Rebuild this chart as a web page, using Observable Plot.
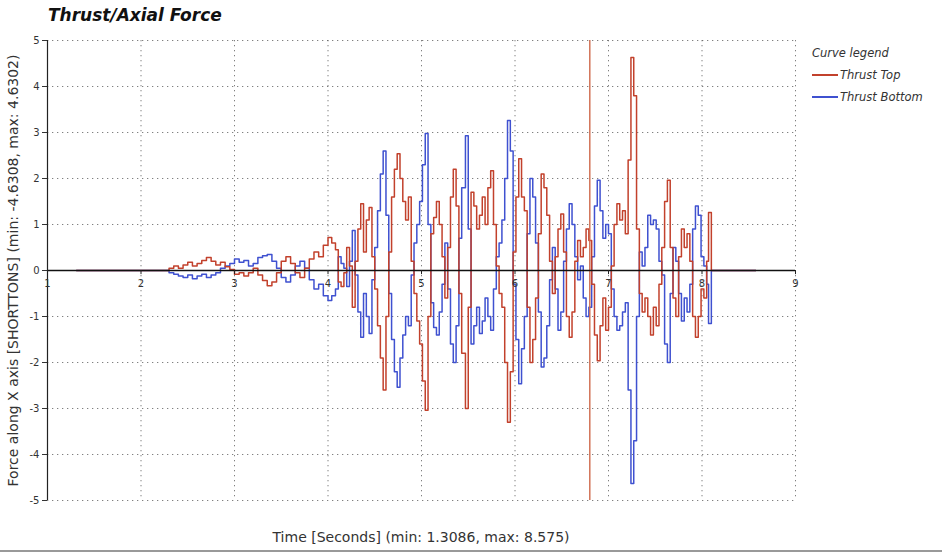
<!DOCTYPE html>
<html>
<head>
<meta charset="utf-8">
<script src="https://cdn.jsdelivr.net/npm/d3@7"></script>
<script src="https://cdn.jsdelivr.net/npm/@observablehq/plot@0.6"></script>
<style>
  body { margin: 0; background: #fff; }
  #wrap { position: relative; width: 942px; height: 554px; overflow: hidden; font-family: "DejaVu Sans", sans-serif; color: #333; }
  #chart { position: absolute; left: 0; top: 0; }
  .title { position: absolute; left: 48px; top: 5px; font-size: 17px; font-weight: bold; font-style: italic; color: #111; white-space: nowrap; }
  .xlab { position: absolute; left: 421px; top: 537px; transform: translate(-50%, -50%); font-size: 14px; white-space: nowrap; color: #333; }
  .legend { position: absolute; left: 812px; top: 42px; font-size: 11.5px; font-style: italic; color: #333; }
  .legend .row { display: flex; align-items: center; height: 22px; white-space: nowrap; }
  .legend .sw { display: inline-block; width: 26px; height: 1.5px; margin-right: 2px; }
  .frame { position: absolute; left: 0; top: 550px; width: 942px; height: 2px; background: #999; }
</style>
</head>
<body>
<div id="wrap">
  <div class="title">Thrust/Axial Force</div>
  <div id="chart"></div>
  <div class="xlab">Time [Seconds] (min: 1.3086, max: 8.575)</div>
  <div class="legend" id="legend"></div>
  <div class="frame"></div>
</div>
<script>
// ---- data ----
const seriesNames = ["Thrust Top", "Thrust Bottom"];
const seriesColors = ["#c2412c", "#3f51d0"];
const xTicks = [1, 2, 3, 4, 5, 6, 7, 8, 9];
const yTicks = [-5, -4, -3, -2, -1, 0, 1, 2, 3, 4, 5];
const spikeTimes = [6.80];
const yLabel = "Force along X axis [SHORTTONS] (min: -4.6308, max: 4.6302)";

const time = [
  1.31, 2.25, 2.30, 2.35, 2.40, 2.45, 2.50, 2.55, 2.60, 2.65, 2.70, 2.75, 2.80, 2.85, 2.90, 2.95,
  3.00, 3.05, 3.10, 3.15, 3.20, 3.25, 3.30, 3.35, 3.40, 3.45, 3.50, 3.55, 3.60, 3.65, 3.70, 3.75,
  3.80, 3.85, 3.90, 3.95, 4.00,
  4.04, 4.08, 4.11, 4.14, 4.17, 4.20, 4.23, 4.26, 4.29, 4.32, 4.35, 4.38, 4.41, 4.44, 4.47, 4.50,
  4.53, 4.56, 4.59, 4.62, 4.65, 4.68, 4.71, 4.74, 4.77, 4.80, 4.83, 4.86, 4.89, 4.92, 4.95, 4.98,
  5.01, 5.04, 5.07, 5.10, 5.13, 5.16, 5.19, 5.22, 5.25, 5.28, 5.31, 5.34, 5.37, 5.40, 5.43, 5.47,
  5.50, 5.53, 5.56, 5.59, 5.62, 5.65, 5.68, 5.71, 5.74, 5.77, 5.80, 5.83, 5.86, 5.89, 5.92, 5.95,
  5.98, 6.01, 6.04, 6.07, 6.10, 6.13, 6.16, 6.19, 6.22, 6.25, 6.28, 6.31, 6.34, 6.37, 6.40, 6.43,
  6.46, 6.49, 6.52, 6.55, 6.58, 6.61, 6.64, 6.67, 6.70, 6.73, 6.76, 6.79, 6.82, 6.85, 6.88, 6.91,
  6.94, 6.97, 7.00, 7.03, 7.06, 7.09, 7.12, 7.15, 7.18, 7.21, 7.24, 7.27, 7.30, 7.33, 7.36, 7.39,
  7.42, 7.45, 7.48, 7.51, 7.54, 7.57, 7.60, 7.63, 7.66, 7.69, 7.72, 7.75, 7.78, 7.81, 7.84, 7.87,
  7.90, 7.93, 7.96, 7.99, 8.02, 8.05, 8.07, 8.10, 8.575
];

const thrustTop = [
  0, 0, 0.05, 0.10, 0.05, 0.12, 0.18, 0.10, 0.15, 0.22, 0.28, 0.20, 0.12, 0.18, 0.08, 0.02,
  -0.08, -0.05, -0.12, -0.05, 0.05, -0.10, -0.22, -0.33, -0.25, -0.05, 0.20, 0.30, 0.15, -0.05, -0.15, 0.05,
  0.25, 0.40, 0.30, 0.55, 0.72,
  0.60, 0.45, -0.25, -0.35, -0.05, 0.50, 0.10, -0.80, 0.20, 0.90, 1.45, 0.40, 1.10, 1.37, 0.30, -0.40,
  -1.20, -1.90, -2.60, -1.00, 0.40, 1.60, 2.20, 2.54, 2.00, 1.50, 1.10, 1.60, 0.20, -0.50, -1.10, -1.60,
  -2.40, -3.04, -1.00, 0.80, 1.15, 1.50, 1.00, 0.30, -0.60, 0.50, 1.60, 2.20, 1.40, -0.50, -1.80, -3.00,
  -0.80, 1.70, 1.40, 0.90, 1.20, 1.60, 1.00, 1.80, 2.17, 1.00, 0.10, -0.50, -0.80, -2.00, -3.30, -2.20,
  0.40, 1.60, 2.43, 1.60, 1.30, -0.80, -2.00, -1.50, -0.60, 0.80, 2.10, 1.80, 1.20, 0.20, -0.50, 0.30,
  0.90, 1.23, 0.40, -1.00, -1.45, -0.90, 0.20, 0.65, 0.30, 0.50, 0.90, 0.65, -0.30, -1.40, -1.96, -1.20,
  -0.60, -1.30, -0.80, 0.10, 1.00, 1.45, 1.10, 1.30, 0.80, 2.40, 4.63, 3.80, 0.90, -0.50, -0.90, -0.60,
  -1.00, -1.40, -0.80, -1.20, -0.30, 0.50, 1.50, 1.96, 0.50, -0.60, -1.00, 0.30, 0.90, 0.50, 0.80, 0.20,
  -1.00, -1.45, -1.00, -0.40, -0.60, 0.20, 1.26, 0, 0
];

const thrustBottom = [
  0, 0, -0.05, -0.08, -0.12, -0.15, -0.10, -0.18, -0.12, -0.08, -0.15, -0.10, -0.05, 0.05, 0.10, 0.15,
  0.25, 0.18, 0.22, 0.10, 0.15, 0.28, 0.32, 0.35, 0.20, 0.05, -0.15, -0.25, -0.10, 0.10, 0.20, 0.05,
  -0.20, -0.40, -0.30, -0.55, -0.65,
  -0.55, -0.40, 0.30, 0.15, 0.05, -0.35, 0.20, 0.87, -0.10, -0.90, -1.45, -0.50, -1.00, -1.37, -0.20, 0.50,
  1.30, 2.10, 2.60, 1.20, -0.50, -1.50, -2.20, -2.54, -1.90, -1.40, -1.00, -1.20, -0.10, 0.60, 1.00, 1.50,
  2.30, 2.98, 1.00, -0.70, -1.24, -1.40, -0.90, -0.30, 0.60, -0.40, -1.60, -2.00, -1.20, 0.70, 1.80, 2.93,
  0.90, -1.60, -1.20, -0.80, -1.37, -1.10, -0.60, -1.00, -1.30, -0.40, 0.30, 0.60, 1.10, 2.00, 3.26, 2.60,
  -0.30, -1.50, -2.46, -1.70, -1.00, 0.80, 2.00, 1.60, 0.60, -0.90, -2.10, -1.90, -1.20, -0.20, 0.50, -0.40,
  -1.30, -0.90, 0.20, 0.90, 1.45, 1.00, 0.30, -0.20, 0.10, -0.60, -1.00, -0.80, 0.30, 1.40, 1.96, 1.30,
  0.70, 1.00, 0.80, -0.40, -1.00, -1.30, -1.20, -0.90, -0.70, -2.60, -4.63, -3.70, -1.00, 0.40, 0.10, 0.50,
  1.20, 1.00, 1.10, 0.90, 0.20, -0.10, -1.60, -2.00, -0.50, 0.50, 0.20, -0.50, -1.10, -0.60, -0.90, -0.30,
  0.90, 1.40, 1.20, 0.30, 0.10, -0.30, -1.15, 0, 0
];

// ---- build table ----
const rows = [];
time.forEach((t, i) => {
  rows.push({ t, v: thrustTop[i], s: seriesNames[0] });
  rows.push({ t, v: thrustBottom[i], s: seriesNames[1] });
});

const gridStyle = { stroke: "#555", strokeOpacity: 0.75, strokeDasharray: "1.3,3.7", strokeWidth: 1 };

const chart = Plot.plot({
  width: 942,
  height: 554,
  marginLeft: 47,
  marginRight: 147,
  marginTop: 40,
  marginBottom: 54,
  style: { fontFamily: "DejaVu Sans, sans-serif", fontSize: "10px", color: "#333", background: "transparent", overflow: "visible" },
  x: { domain: [1, 9], axis: null },
  y: { domain: [-5, 5], ticks: yTicks, tickSize: 5, tickPadding: 3, tickFormat: d => String(d), label: null },
  color: { domain: seriesNames, range: seriesColors },
  marks: [
    Plot.ruleX(xTicks, { x: d => d, ...gridStyle }),
    Plot.ruleY(yTicks, { y: d => d, ...gridStyle }),
    Plot.lineY(rows.filter(d => d.s === seriesNames[1]), { x: "t", y: "v", stroke: "s", strokeWidth: 1.5, curve: "step-after" }),
    Plot.lineY(rows.filter(d => d.s === seriesNames[0]), { x: "t", y: "v", stroke: "s", strokeWidth: 1.5, curve: "step-after" }),
    Plot.ruleX(spikeTimes, { x: d => d, stroke: "#cf6a4c", strokeWidth: 1.4 }),
    Plot.ruleY([0], { y: d => d, stroke: "#111", strokeWidth: 1.6 }),
    Plot.ruleX([1], { x: d => d, stroke: "#222", strokeWidth: 1.2 }),
    Plot.ruleX(xTicks, { x: d => d, y1: 0, y2: -0.09, stroke: "#222" }),
    Plot.text(xTicks, { x: d => d, y: 0, dy: 13, text: d => String(d), fontSize: 10, fill: "#333" }),
    Plot.text([yLabel], { text: d => d, frameAnchor: "left", dx: -34, rotate: -90, fontSize: 14, fill: "#333", textAnchor: "middle" })
  ]
});
document.getElementById("chart").appendChild(chart);

// ---- legend ----
const legend = document.getElementById("legend");
const head = document.createElement("div");
head.className = "row";
head.textContent = "Curve legend";
legend.appendChild(head);
seriesNames.forEach((name, i) => {
  const row = document.createElement("div");
  row.className = "row";
  const sw = document.createElement("span");
  sw.className = "sw";
  sw.style.background = seriesColors[i];
  row.appendChild(sw);
  const lab = document.createElement("span");
  lab.textContent = name;
  row.appendChild(lab);
  legend.appendChild(row);
});
</script>
</body>
</html>
